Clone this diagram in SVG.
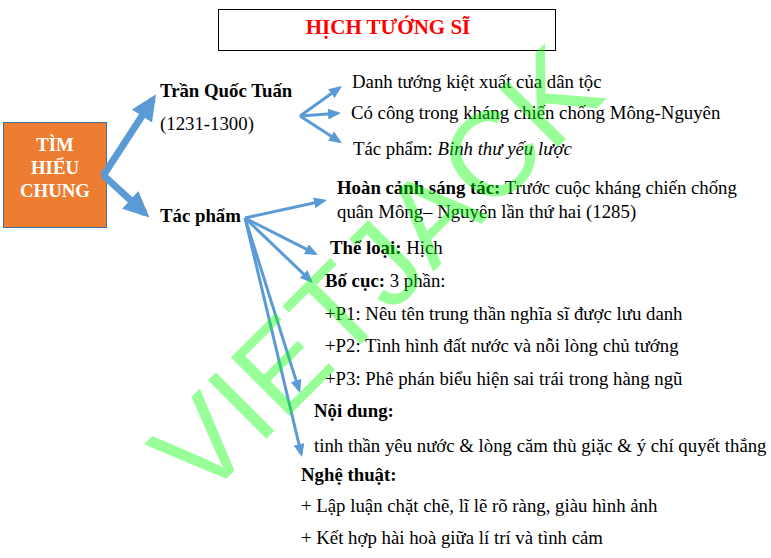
<svg xmlns="http://www.w3.org/2000/svg" width="771" height="558" viewBox="0 0 771 558">
<style>
.t{font-family:"Liberation Serif","DejaVu Serif",serif;font-size:18.8px;fill:#000}
.b{font-weight:bold}
.title{font-family:"Liberation Serif","DejaVu Serif",serif;font-size:21px;font-weight:bold;fill:#ff0000}
.box{font-family:"Liberation Serif","DejaVu Serif",serif;font-size:18.8px;font-weight:bold;fill:#fff}
.thin{stroke:#5b9bd5;stroke-width:3;fill:none}
.thick{stroke:#5b9bd5;stroke-width:7;fill:none}
.wm{font-family:"Liberation Sans",Arial,sans-serif;font-size:120px;fill:#00ff00;opacity:0.4}
</style>
<defs>
<marker id="ah" markerUnits="userSpaceOnUse" markerWidth="13" markerHeight="11" refX="10" refY="5.5" orient="auto" viewBox="0 0 13 11">
<path d="M0,0 L13,5.5 L0,11 z" fill="#5b9bd5"/>
</marker>
<marker id="bh" markerUnits="userSpaceOnUse" markerWidth="26" markerHeight="24" refX="20" refY="12" orient="auto" viewBox="0 0 26 24">
<path d="M0,0 L26,12 L0,24 z" fill="#5b9bd5"/>
</marker>
</defs>
<rect width="771" height="558" fill="#fff"/>

<g id="title">
<rect x="218.5" y="9.5" width="337" height="41" fill="#fff" stroke="#000" stroke-width="1"/>
<text class="title" x="388" y="34" text-anchor="middle">HỊCH TƯỚNG SĨ</text>
</g>

<g id="tim-hieu-chung">
<rect x="3.5" y="122.5" width="103" height="105" fill="#ed7d31" stroke="#41719c" stroke-width="1"/>
<text class="box" x="55" y="151" text-anchor="middle">TÌM</text>
<text class="box" x="55" y="174" text-anchor="middle">HIỂU</text>
<text class="box" x="55" y="197" text-anchor="middle">CHUNG</text>
</g>

<g id="connectors">
<line class="thick" x1="103" y1="176" x2="152.8" y2="99.3" marker-end="url(#bh)"/>
<line class="thick" x1="103" y1="175" x2="145" y2="213.4" marker-end="url(#bh)"/>
<line class="thin" x1="300" y1="116" x2="339.5" y2="87.8" marker-end="url(#ah)"/>
<line class="thin" x1="300" y1="116" x2="338" y2="113.3" marker-end="url(#ah)"/>
<line class="thin" x1="300" y1="116" x2="339.4" y2="141.5" marker-end="url(#ah)"/>
<line class="thin" x1="245" y1="218" x2="324" y2="200.7" marker-end="url(#ah)"/>
<line class="thin" x1="245" y1="218" x2="315.2" y2="253.6" marker-end="url(#ah)"/>
<line class="thin" x1="245" y1="218" x2="310.8" y2="280.9" marker-end="url(#ah)"/>
<line class="thin" x1="245" y1="218" x2="299.1" y2="390.1" marker-end="url(#ah)"/>
<line class="thin" x1="245" y1="218" x2="301.3" y2="454" marker-end="url(#ah)"/>
</g>

<g id="tran-quoc-tuan">
<text class="t b" x="160" y="97">Trần Quốc Tuấn</text>
<text class="t" x="160" y="130">(1231-1300)</text>
</g>

<g id="tqt-items">
<text class="t" x="352" y="88">Danh tướng kiệt xuất của dân tộc</text>
<text class="t" x="351" y="119">Có công trong kháng chiến chống Mông-Nguyên</text>
<text class="t" x="353" y="155">Tác phẩm: <tspan font-style="italic">Binh thư yếu lược</tspan></text>
</g>

<g id="tac-pham">
<text class="t b" x="160" y="222">Tác phẩm</text>
</g>

<g id="hoan-canh">
<text class="t" x="337" y="194"><tspan class="b">Hoàn cảnh sáng tác:</tspan> Trước cuộc kháng chiến chống</text>
<text class="t" x="337" y="218">quân Mông– Nguyên lần thứ hai (1285)</text>
</g>

<g id="the-loai">
<text class="t" x="330" y="254"><tspan class="b">Thể loại:</tspan> Hịch</text>
</g>

<g id="bo-cuc">
<text class="t" x="325" y="287"><tspan class="b">Bố cục:</tspan> 3 phần:</text>
<text class="t" x="325" y="320">+P1: Nêu tên trung thần nghĩa sĩ được lưu danh</text>
<text class="t" x="325" y="352">+P2: Tình hình đất nước và nỗi lòng chủ tướng</text>
<text class="t" x="325" y="385">+P3: Phê phán biểu hiện sai trái trong hàng ngũ</text>
</g>

<g id="noi-dung">
<text class="t b" x="314" y="417">Nội dung:</text>
<text class="t" x="314" y="452">tinh thần yêu nước &amp;  lòng căm thù giặc &amp; ý chí quyết thắng</text>
</g>

<g id="nghe-thuat">
<text class="t b" x="301" y="481">Nghệ thuật:</text>
<text class="t" x="301" y="512">+ Lập luận chặt chẽ, lĩ lẽ rõ ràng, giàu hình ảnh</text>
<text class="t" x="301" y="544">+ Kết hợp hài hoà giữa lí trí và tình cảm</text>
</g>

<text class="wm" transform="translate(202,503) rotate(-45)" x="0" y="0">VIETJACK</text>
</svg>
